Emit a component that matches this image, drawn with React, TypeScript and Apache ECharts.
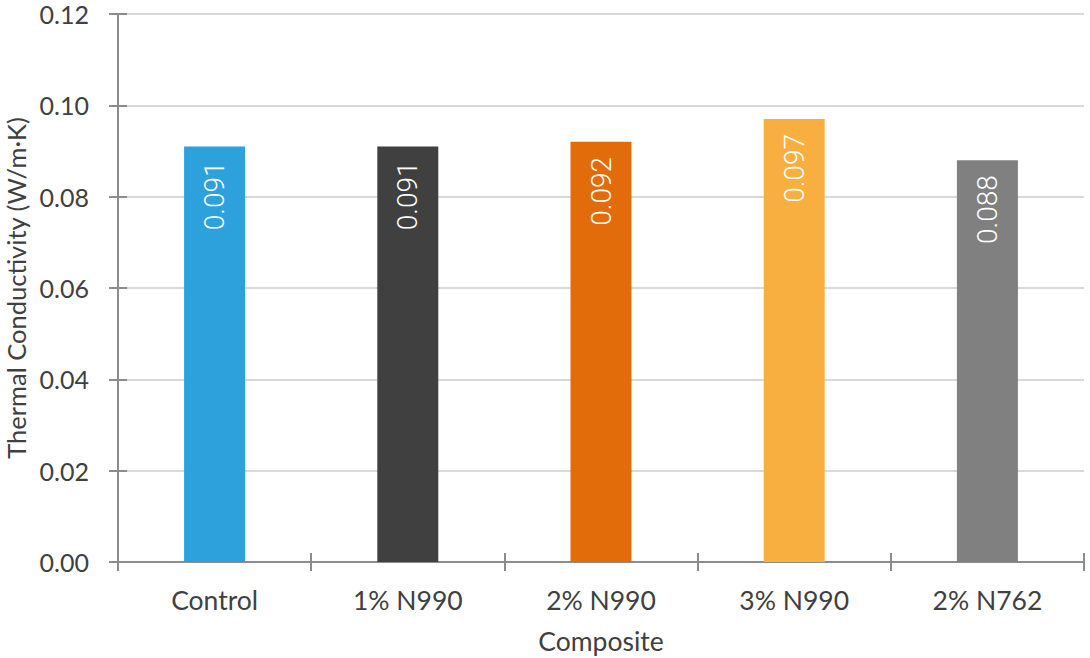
import React, { useEffect, useRef } from "react";
import * as echarts from "echarts";

const categories = ["Control", "1% N990", "2% N990", "3% N990", "2% N762"];
const conductivity = [0.091, 0.091, 0.092, 0.097, 0.088];
const barColors = ["#2CA1DC", "#404040", "#E36C0A", "#F9AE40", "#808080"];
const yTicks = { min: 0, max: 0.12, interval: 0.02 };

const AXIS_COLOR = "#8c8c8c";
const TEXT_COLOR = "#404040";
const FONT = "Lato, 'Open Sans', sans-serif";
const FONT_SIZE = 26.5;

export default function App() {
  const ref = useRef<HTMLDivElement>(null);

  useEffect(() => {
    if (!ref.current) return;
    const chart = echarts.init(ref.current, undefined, { renderer: "svg" });

    const baseY = {
      type: "value" as const,
      min: yTicks.min,
      max: yTicks.max,
      interval: yTicks.interval,
    };

    chart.setOption({
      animation: false,
      grid: { left: 118, right: 6, top: 14, bottom: 96, containLabel: false, outerBoundsMode: "none" },
      xAxis: [
        {
          type: "category",
          data: categories,
          name: "Composite",
          nameLocation: "middle",
          nameGap: 65,
          nameTextStyle: { color: TEXT_COLOR, fontSize: FONT_SIZE, fontFamily: FONT },
          axisLine: { lineStyle: { color: AXIS_COLOR, width: 2 } },
          axisTick: { show: true, length: 9, lineStyle: { color: AXIS_COLOR, width: 2 } },
          axisLabel: { color: TEXT_COLOR, fontSize: FONT_SIZE, fontFamily: FONT, margin: 24 },
        },
        {
          // inner half of the crossing category ticks
          type: "category",
          data: categories,
          position: "bottom",
          axisLine: { show: false },
          axisTick: { show: true, inside: true, length: 9, lineStyle: { color: AXIS_COLOR, width: 2 } },
          axisLabel: { show: false },
        },
      ],
      yAxis: [
        {
          ...baseY,
          name: "Thermal Conductivity (W/m·K)",
          nameLocation: "middle",
          nameGap: 86,
          nameTextStyle: { color: TEXT_COLOR, fontSize: 25.5, fontFamily: FONT, lineHeight: 22 },
          axisLine: { show: true, lineStyle: { color: AXIS_COLOR, width: 2 } },
          axisTick: { show: true, length: 9, lineStyle: { color: AXIS_COLOR, width: 2 } },
          axisLabel: {
            color: TEXT_COLOR,
            fontSize: 25,
            fontFamily: FONT,
            lineHeight: 20,
            margin: 29,
            formatter: (v: number) => v.toFixed(2),
          },
          splitLine: { show: true, lineStyle: { color: "#d9d9d9", width: 2 } },
        },
        {
          // inner half of the crossing value ticks
          ...baseY,
          position: "left",
          axisLine: { show: false },
          axisTick: { show: true, inside: true, length: 9, lineStyle: { color: AXIS_COLOR, width: 2 } },
          axisLabel: { show: false },
          splitLine: { show: false },
        },
      ],
      series: [
        {
          type: "bar",
          data: conductivity.map((v, i) => ({ value: v, itemStyle: { color: barColors[i] } })),
          barWidth: 61,
          label: {
            show: true,
            position: "insideTop",
            rotate: 90,
            distance: 15,
            align: "right",
            verticalAlign: "middle",
            color: "#ffffff",
            fontSize: 28,
            fontFamily: "Roboto, sans-serif",
            fontWeight: 300,
            formatter: (p: any) => p.value.toFixed(3),
          },
        },
      ],
    });

    return () => chart.dispose();
  }, []);

  return (
    <div
      ref={ref}
      style={{ position: "absolute", left: 0, top: 0, width: 1090, height: 658 }}
    />
  );
}
